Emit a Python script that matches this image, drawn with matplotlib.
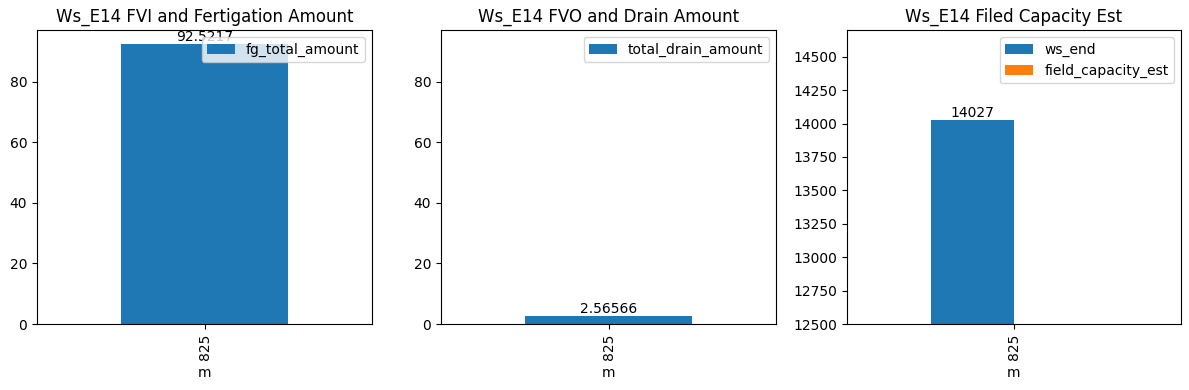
import matplotlib
matplotlib.use("Agg")
import matplotlib.pyplot as plt
import numpy as np

categories = ["825"]
fg_total_amount = [92.5217]
total_drain_amount = [2.56566]
ws_end = [14027]
field_capacity_est = [0]

W, H = 1189, 390
fig, axes = plt.subplots(1, 3, figsize=(W / 100, H / 100), dpi=100)
x = np.arange(len(categories))

lefts = [37, 441, 847]
rights = [372, 776, 1181]
top_px, bot_px = 30, 324
for ax, l, r in zip(axes, lefts, rights):
    ax.set_position([l / W, 1 - bot_px / H, (r - l) / W, (bot_px - top_px) / H])

# Panel 1
ax = axes[0]
b = ax.bar(x, fg_total_amount, width=0.5, color="#1f77b4", label="fg_total_amount")
ax.bar_label(b, labels=["92.5217"])
ax.set_xlim(-0.5, 0.5)
ax.set_xticks(x)
ax.set_xticklabels(categories, rotation=90)
ax.set_xlabel("m")
ax.set_title("Ws_E14 FVI and Fertigation Amount")
ax.legend(loc="upper right")
ylim1 = ax.get_ylim()

# Panel 2
ax = axes[1]
b = ax.bar(x, total_drain_amount, width=0.5, color="#1f77b4", label="total_drain_amount")
ax.bar_label(b, labels=["2.56566"])
ax.set_xlim(-0.5, 0.5)
ax.set_ylim(ylim1)
ax.set_xticks(x)
ax.set_xticklabels(categories, rotation=90)
ax.set_xlabel("m")
ax.set_title("Ws_E14 FVO and Drain Amount")
ax.legend(loc="upper right")

# Panel 3
ax = axes[2]
w = 0.25
b1 = ax.bar(x - w / 2, ws_end, width=w, color="#1f77b4", label="ws_end")
b2 = ax.bar(x + w / 2, field_capacity_est, width=w, color="#ff7f0e", label="field_capacity_est")
ax.bar_label(b1, labels=["14027"])
ax.set_xlim(-0.5, 0.5)
ax.set_ylim(12500, 14700)
ax.set_xticks(x)
ax.set_xticklabels(categories, rotation=90)
ax.set_xlabel("m")
ax.set_title("Ws_E14 Filed Capacity Est")
ax.legend(loc="upper right")

fig.savefig("out.png", dpi=100)
